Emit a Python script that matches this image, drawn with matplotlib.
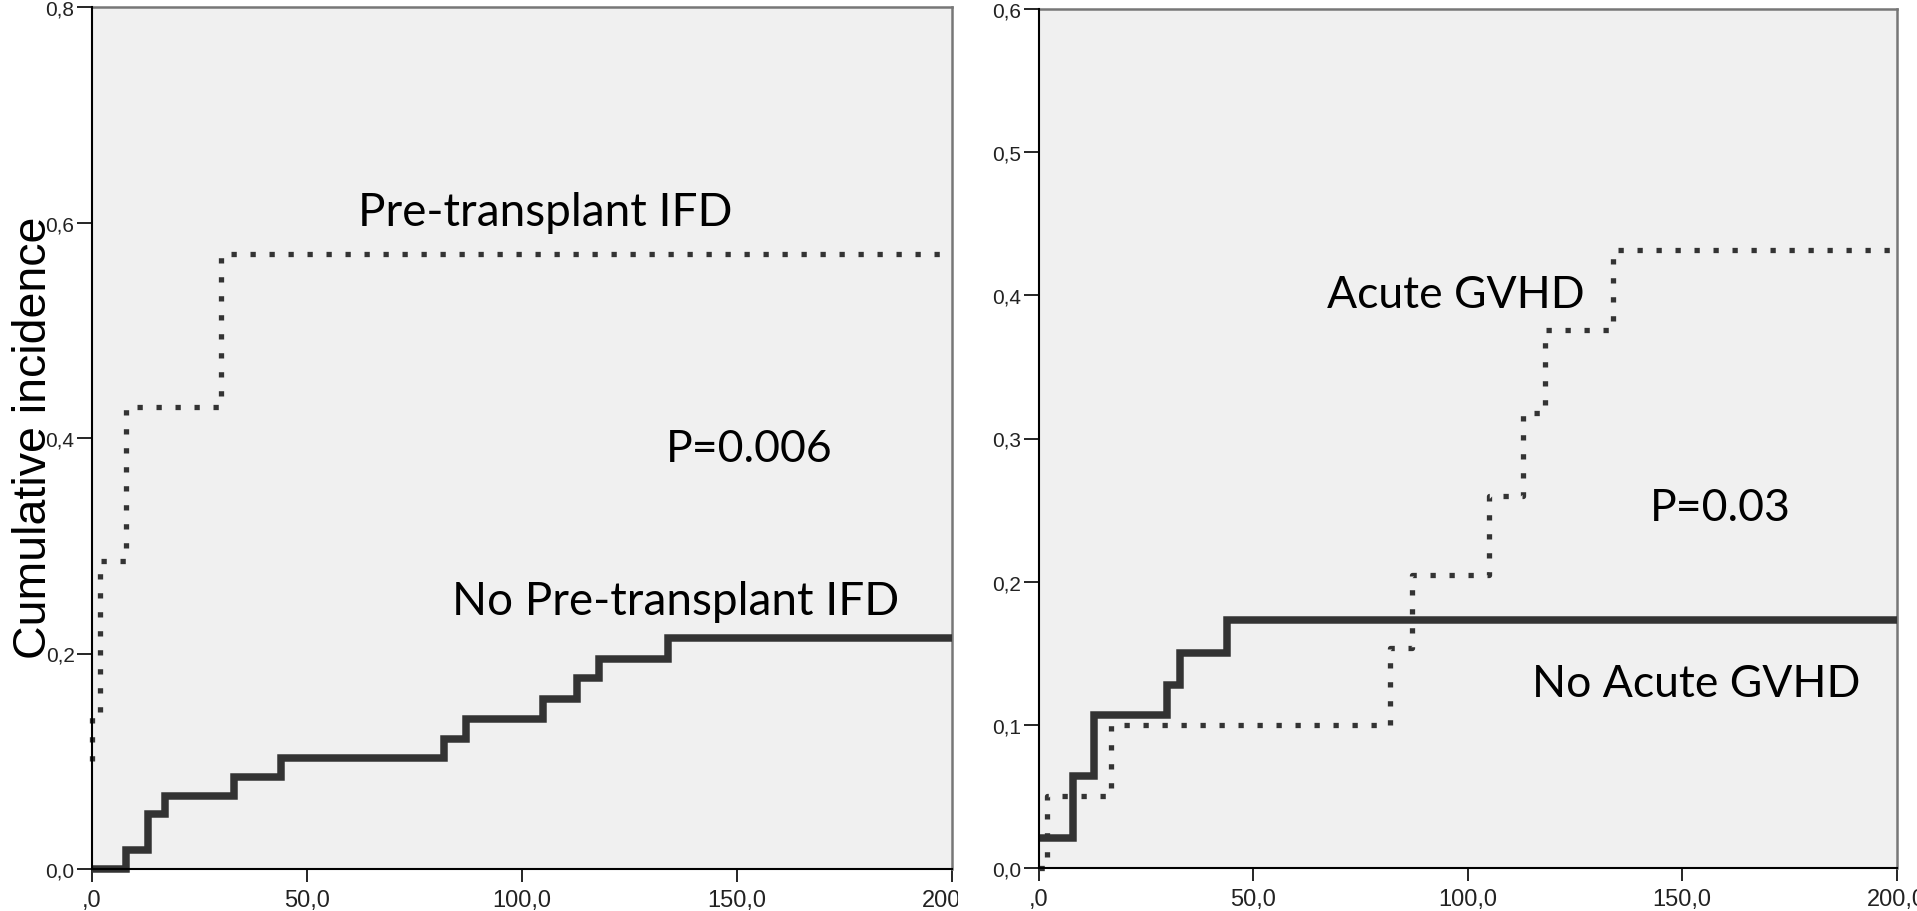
import matplotlib
matplotlib.use("Agg")
import matplotlib.pyplot as plt
from matplotlib.transforms import Bbox, TransformedBbox

# cumulative incidence curves (time in days)
ifd_t = [0, 0, 2, 8, 30, 200]
ifd_ci = [0.10, 0.143, 0.286, 0.429, 0.571, 0.571]
no_ifd_t = [0, 8, 13, 17, 33, 44, 82, 87, 105, 113, 118, 134, 200]
no_ifd_ci = [0.0, 0.018, 0.051, 0.068, 0.085, 0.103, 0.121, 0.139, 0.158, 0.177, 0.195, 0.214, 0.214]

gvhd_t = [0, 2, 17, 82, 87, 105, 113, 118, 134, 200]
gvhd_ci = [0.0, 0.050, 0.100, 0.154, 0.205, 0.260, 0.318, 0.376, 0.432, 0.432]
no_gvhd_t = [0, 8, 13, 30, 33, 44, 200]
no_gvhd_ci = [0.021, 0.064, 0.107, 0.128, 0.150, 0.173, 0.173]

x_ticks = [0, 50, 100, 150, 200]
x_labels = [",0", "50,0", "100,0", "150,0", "200,0"]
left_yticks = [0, 0.2, 0.4, 0.6, 0.8]
left_ylabels = ["0,0", "0,2", "0,4", "0,6", "0,8"]
right_yticks = [0, 0.1, 0.2, 0.3, 0.4, 0.5, 0.6]
right_ylabels = ["0,0", "0,1", "0,2", "0,3", "0,4", "0,5", "0,6"]

W, H = 1917, 912
fig = plt.figure(figsize=(W / 100, H / 100), dpi=100)


def px_axes(l, t, r, b):
    return fig.add_axes([l / W, 1 - b / H, (r - l) / W, (b - t) / H])


ax1 = px_axes(91.7, 8, 951.5, 870)
ax2 = px_axes(1038.5, 10, 1896.5, 869)

dark = "#333333"
solid_kw = dict(color=dark, lw=5.4, drawstyle="steps-post", solid_joinstyle="miter",
                solid_capstyle="butt", clip_on=False, zorder=3)
dot_kw = dict(color=dark, lw=3.8, drawstyle="steps-post", linestyle=(0, (1, 2.6)),
              dash_capstyle="butt", clip_on=False, zorder=3)


def style(ax, yticks, ylabels, ymax):
    ax.set_facecolor("#f0f0f0")
    ax.set_xlim(0, 200)
    ax.set_ylim(0, ymax)
    ax.set_xticks(x_ticks)
    ax.set_xticklabels(x_labels, fontsize=17, family="Liberation Sans", color="#222222")
    ax.set_yticks(yticks)
    ax.set_yticklabels(ylabels, fontsize=15, family="Liberation Sans", color="#222222")
    ax.tick_params(axis="y", length=10.8, width=1.2, pad=1.5)
    ax.tick_params(axis="x", length=9.4, width=1.2, pad=5)
    for s in ("left", "bottom"):
        ax.spines[s].set_linewidth(1.5)
        ax.spines[s].set_color("black")
        ax.spines[s].set_zorder(4)
    for s in ("top", "right"):
        ax.spines[s].set_linewidth(1.8)
        ax.spines[s].set_color("#777777")


style(ax1, left_yticks, left_ylabels, 0.8)
style(ax2, right_yticks, right_ylabels, 0.6)

ax1.plot(ifd_t, ifd_ci, **dot_kw)
ax1.plot(no_ifd_t, no_ifd_ci, **solid_kw)
ax2.plot(gvhd_t, gvhd_ci, **dot_kw)
ax2.plot(no_gvhd_t, no_gvhd_ci, **solid_kw)

txt = dict(ha="center", va="baseline", fontsize=32, family="Lato", color="black")
ax1.text(105.4, 0.598, "Pre-transplant IFD", fontsize=33, **{k: v for k, v in txt.items() if k != "fontsize"})
ax1.text(152.9, 0.379, "P=0.006", **txt)
ax1.text(135.9, 0.237, "No Pre-transplant IFD", fontsize=33, **{k: v for k, v in txt.items() if k != "fontsize"})
ax2.text(97.3, 0.392, "Acute GVHD", **txt)
ax2.text(159.0, 0.243, "P=0.03", **txt)
ax2.text(153.3, 0.120, "No Acute GVHD", **txt)

fig.text(34 / W, 1 - 438 / H, "Cumulative incidence", rotation=90, ha="center", va="center",
         fontsize=33.5, family="Liberation Sans")

# the left panel was cropped just after its last tick label
clip = TransformedBbox(Bbox([[0, 0], [958 / W, 1]]), fig.transFigure)
for lab in ax1.get_xticklabels():
    lab.set_clip_box(clip)

fig.savefig("out.png", dpi=100)
